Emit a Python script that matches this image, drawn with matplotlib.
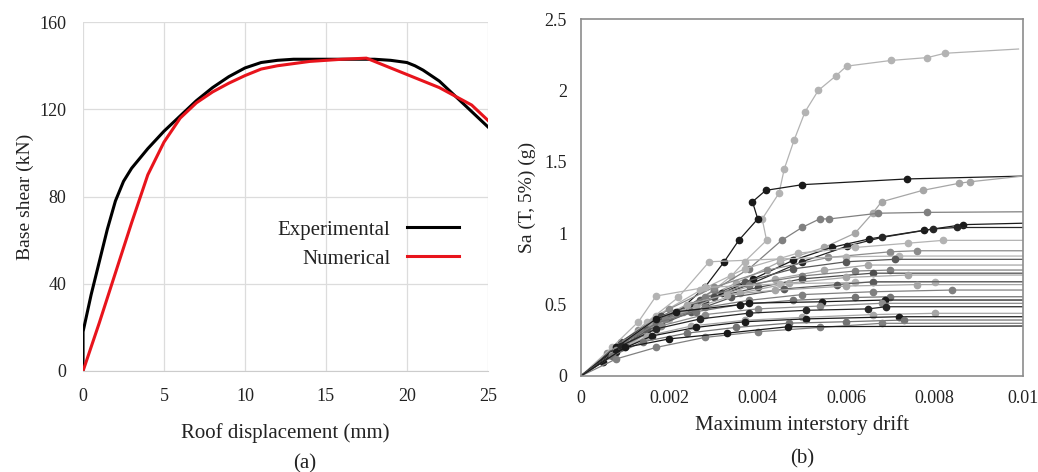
import matplotlib
matplotlib.use('Agg')
import matplotlib.pyplot as plt

plt.rcParams['font.family'] = ['Liberation Serif', 'DejaVu Serif']

# ---- panel (a): pushover curves ----
exp_disp = [0, 0, 0.5, 1, 1.5, 2, 2.5, 3, 4, 5, 6, 7, 8, 9, 10, 11, 12, 13, 15, 17, 18, 19, 20, 20.5, 21, 22, 23, 24, 25]
exp_shear = [0, 18, 35, 50, 65, 78, 87, 93, 102, 110, 117, 124, 130, 135, 139, 141.5, 142.5, 143, 143, 143, 143, 142.5, 141.5, 140, 138, 133, 126, 119, 112]

num_disp = [0, 1, 2, 3, 4, 5, 6, 7, 8, 9, 10, 11, 12, 14, 16, 17.5, 18, 20, 22, 24, 25]
num_shear = [0, 22, 45, 68, 90, 105, 116, 123, 128, 132, 135.5, 138.5, 140, 142, 143, 143.5, 142, 136, 130, 122, 115]

# ---- panel (b): IDA curves (drift, Sa), last point is the flat end at 0.01 ----
ida_drift = [
    [0, 0.0005, 0.001, 0.0015, 0.002, 0.0026, 0.003, 0.0034, 0.0037, 0.0042, 0.0041, 0.00448, 0.0046, 0.00482, 0.00507, 0.00537, 0.00576, 0.00601, 0.00702, 0.00784, 0.00823, 0.0099],
    [0, 0.0005, 0.001, 0.0015, 0.0022, 0.0028, 0.00324, 0.00357, 0.004, 0.00388, 0.00418, 0.00501, 0.00738, 0.01],
    [0, 0.0008, 0.0015, 0.0025, 0.0035, 0.0045, 0.0055, 0.0062, 0.0066, 0.0068, 0.00773, 0.00856, 0.0088, 0.01],
    [0, 0.0007, 0.0014, 0.0022, 0.003, 0.0038, 0.00454, 0.005, 0.0054, 0.00562, 0.00673, 0.00784, 0.01],
    [0, 0.0008, 0.0016, 0.0025, 0.0032, 0.0039, 0.0048, 0.00567, 0.00652, 0.00775, 0.00865, 0.01],
    [0, 0.0009, 0.0018, 0.0028, 0.0038, 0.005, 0.00603, 0.0068, 0.00797, 0.0085, 0.01],
    [0, 0.0008, 0.0017, 0.0027, 0.0037, 0.0049, 0.0062, 0.0074, 0.0082, 0.01],
    [0, 0.0006, 0.0013, 0.002, 0.003, 0.0042, 0.0056, 0.007, 0.0076, 0.01],
    [0, 0.0007, 0.0015, 0.0022, 0.0029, 0.0045, 0.006, 0.0072, 0.01],
    [0, 0.0008, 0.0017, 0.0027, 0.0037, 0.0048, 0.006, 0.0071, 0.01],
    [0, 0.0006, 0.0014, 0.0023, 0.0033, 0.0044, 0.0055, 0.0065, 0.01],
    [0, 0.0009, 0.0018, 0.0028, 0.0038, 0.005, 0.0062, 0.007, 0.01],
    [0, 0.0009, 0.0018, 0.003, 0.004, 0.005, 0.0066, 0.01],
    [0, 0.0008, 0.0016, 0.0026, 0.0036, 0.0047, 0.006, 0.0074, 0.01],
    [0, 0.0007, 0.0013, 0.0017, 0.0028, 0.0045, 0.0062, 0.008, 0.01],
    [0, 0.0007, 0.0015, 0.0025, 0.0034, 0.0046, 0.0058, 0.0066, 0.01],
    [0, 0.0008, 0.0016, 0.0024, 0.0033, 0.0044, 0.006, 0.0076, 0.01],
    [0, 0.001, 0.0019, 0.0028, 0.0038, 0.005, 0.0066, 0.0084, 0.01],
    [0, 0.0009, 0.0017, 0.0026, 0.0036, 0.0048, 0.0062, 0.007, 0.01],
    [0, 0.0008, 0.0017, 0.00216, 0.0036, 0.0038, 0.00546, 0.00688, 0.01],
    [0, 0.0008, 0.0018, 0.0028, 0.004, 0.0054, 0.0068, 0.01],
    [0, 0.0009, 0.0017, 0.0027, 0.0038, 0.0051, 0.0065, 0.0069, 0.01],
    [0, 0.0007, 0.0015, 0.0025, 0.0037, 0.005, 0.0066, 0.008, 0.01],
    [0, 0.0008, 0.0016, 0.0026, 0.0037, 0.0051, 0.0072, 0.01],
    [0, 0.0007, 0.0014, 0.0024, 0.0035, 0.0047, 0.006, 0.0073, 0.01],
    [0, 0.0008, 0.0017, 0.0028, 0.004, 0.0054, 0.0068, 0.01],
    [0, 0.001, 0.002, 0.0033, 0.00469, 0.01],
]
ida_sa = [
    [0, 0.1, 0.2, 0.3, 0.4, 0.5, 0.6, 0.7, 0.8, 0.95, 1.1, 1.28, 1.45, 1.65, 1.85, 2.0, 2.1, 2.17, 2.21, 2.23, 2.26, 2.29],
    [0, 0.1, 0.22, 0.33, 0.45, 0.62, 0.8, 0.95, 1.1, 1.22, 1.3, 1.34, 1.38, 1.4],
    [0, 0.2, 0.35, 0.5, 0.65, 0.8, 0.9, 1.0, 1.14, 1.22, 1.3, 1.35, 1.36, 1.4],
    [0, 0.15, 0.3, 0.45, 0.6, 0.75, 0.95, 1.04, 1.1, 1.1, 1.14, 1.146, 1.15],
    [0, 0.18, 0.34, 0.48, 0.58, 0.68, 0.81, 0.9, 0.96, 1.02, 1.06, 1.07],
    [0, 0.2, 0.36, 0.52, 0.64, 0.8, 0.91, 0.97, 1.03, 1.04, 1.04],
    [0, 0.2, 0.42, 0.6, 0.75, 0.86, 0.9, 0.93, 0.95, 0.95],
    [0, 0.16, 0.32, 0.47, 0.62, 0.74, 0.83, 0.87, 0.877, 0.877],
    [0, 0.18, 0.38, 0.55, 0.8, 0.82, 0.835, 0.84, 0.84],
    [0, 0.2, 0.38, 0.53, 0.66, 0.75, 0.8, 0.817, 0.817],
    [0, 0.14, 0.3, 0.45, 0.58, 0.68, 0.74, 0.777, 0.777],
    [0, 0.22, 0.4, 0.55, 0.64, 0.7, 0.735, 0.742, 0.742],
    [0, 0.24, 0.42, 0.55, 0.62, 0.68, 0.72, 0.72],
    [0, 0.18, 0.34, 0.48, 0.58, 0.65, 0.69, 0.707, 0.707],
    [0, 0.2, 0.38, 0.56, 0.62, 0.645, 0.655, 0.66, 0.66],
    [0, 0.16, 0.32, 0.45, 0.55, 0.61, 0.64, 0.66, 0.66],
    [0, 0.2, 0.38, 0.5, 0.57, 0.6, 0.63, 0.64, 0.64],
    [0, 0.24, 0.4, 0.48, 0.53, 0.57, 0.59, 0.602, 0.602],
    [0, 0.22, 0.37, 0.45, 0.5, 0.53, 0.55, 0.555, 0.555],
    [0, 0.2, 0.4, 0.45, 0.5, 0.51, 0.52, 0.532, 0.532],
    [0, 0.18, 0.35, 0.43, 0.47, 0.49, 0.509, 0.509],
    [0, 0.21, 0.33, 0.4, 0.44, 0.46, 0.47, 0.485, 0.485],
    [0, 0.15, 0.28, 0.35, 0.39, 0.41, 0.43, 0.439, 0.439],
    [0, 0.17, 0.28, 0.34, 0.38, 0.4, 0.415, 0.415],
    [0, 0.14, 0.24, 0.3, 0.34, 0.37, 0.38, 0.392, 0.392],
    [0, 0.12, 0.2, 0.27, 0.31, 0.34, 0.369, 0.369],
    [0, 0.2, 0.26, 0.3, 0.345, 0.35],
]
ida_shade = ['#b3b3b3', '#1a1a1a', '#a6a6a6', '#808080', '#1a1a1a', '#262626',
             '#b3b3b3', '#8c8c8c', '#b3b3b3', '#595959', '#a6a6a6', '#808080',
             '#4d4d4d', '#a6a6a6', '#b3b3b3', '#595959', '#a6a6a6', '#808080',
             '#737373', '#1a1a1a', '#8c8c8c', '#262626', '#a6a6a6', '#1a1a1a',
             '#737373', '#808080', '#1a1a1a']

text_col = '#222222'

fig = plt.figure(figsize=(10.38, 4.72), dpi=100)

# panel (a)
ax1 = fig.add_axes([0.080, 0.214, 0.390, 0.739])
ax1.plot(exp_disp, exp_shear, color='black', lw=2.2, label='Experimental')
ax1.plot(num_disp, num_shear, color='#e8141c', lw=2.2, label='Numerical')
ax1.set_xlim(0, 25)
ax1.set_ylim(0, 160)
ax1.set_xticks([0, 5, 10, 15, 20, 25])
ax1.set_yticks([0, 40, 80, 120, 160])
ax1.grid(True, color='#dcdcdc', lw=0.9)
for s in ['top', 'right', 'left']:
    ax1.spines[s].set_visible(False)
ax1.spines['bottom'].set_color('#cccccc')
ax1.tick_params(length=0, labelsize=13, colors=text_col, pad=12)
ax1.set_xlabel('Roof displacement (mm)', fontsize=15, color=text_col, labelpad=13)
ax1.set_ylabel('Base shear (kN)', fontsize=14, color=text_col, labelpad=4)
ax1.legend(loc='center right', bbox_to_anchor=(0.975, 0.363), frameon=False,
           markerfirst=False, fontsize=15, handlelength=2.5, labelspacing=0.45,
           labelcolor=text_col)

# panel (b)
ax2 = fig.add_axes([0.5597, 0.2034, 0.4258, 0.7563])
for d, sa, c in zip(ida_drift, ida_sa, ida_shade):
    ax2.plot(d, sa, color=c, lw=0.9, marker='o', ms=4.5, mec=c, mfc=c,
             markevery=slice(1, -1))
ax2.set_xlim(0, 0.01)
ax2.set_ylim(0, 2.5)
ax2.set_xticks([0, 0.002, 0.004, 0.006, 0.008, 0.01])
ax2.set_xticklabels(['0', '0.002', '0.004', '0.006', '0.008', '0.01'])
ax2.set_yticks([0, 0.5, 1, 1.5, 2, 2.5])
ax2.set_yticklabels(['0', '0.5', '1', '1.5', '2', '2.5'])
for s in ax2.spines.values():
    s.set_color('#8c8c8c')
    s.set_linewidth(1.2)
ax2.tick_params(length=0, labelsize=13, colors=text_col, pad=10)
ax2.set_xlabel('Maximum interstory drift', fontsize=15, color=text_col, labelpad=6)
ax2.set_ylabel('Sa (T, 5%) (g)', fontsize=14, color=text_col, labelpad=6)

fig.text(0.294, 0.008, '(a)', fontsize=15, color=text_col, ha='center')
fig.text(0.773, 0.018, '(b)', fontsize=15, color=text_col, ha='center')

fig.savefig('out.png', dpi=100)
